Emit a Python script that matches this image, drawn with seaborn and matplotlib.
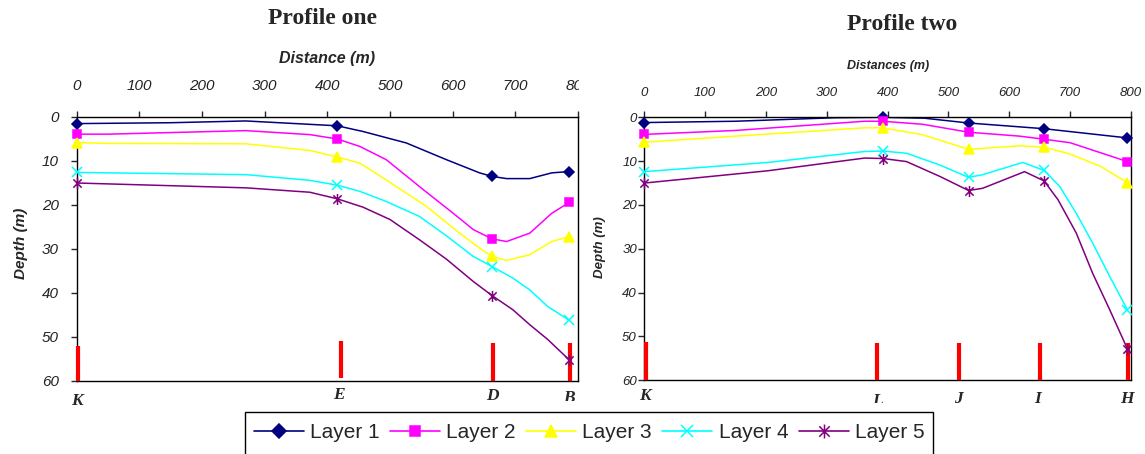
import numpy as np
import pandas as pd
import matplotlib
matplotlib.use("Agg")
import matplotlib.pyplot as plt
import seaborn as sns
from matplotlib.lines import Line2D
from matplotlib.path import Path
from matplotlib.patches import Rectangle
from matplotlib.transforms import Bbox, TransformedBbox, blended_transform_factory

sns.set_style("white")
plt.rcParams['font.family'] = ['Liberation Sans', 'DejaVu Sans']

layers = ["Layer 1", "Layer 2", "Layer 3", "Layer 4", "Layer 5"]
colors = ["#000080", "#FF00FF", "#FFFF00", "#00FFFF", "#800080"]

# ---- profile one (K - E - D - B) ----
p1_names = ["K", "E", "D", "B"]
p1_stations = [0, 416, 663, 786]
p1_bar_x = [2, 422, 664, 787]
p1_bar_top = [52.0, 51.0, 51.4, 51.4]
p1_bar_bottom = [60, 59.4, 60, 60]

p1_l1_x = [0, 150, 270, 416, 457, 526, 590, 643, 663, 686, 723, 758, 786]
p1_l1_d = [1.5, 1.3, 0.9, 2.0, 3.3, 5.9, 9.7, 12.7, 13.5, 14.0, 14.0, 12.7, 12.4]
p1_l2_x = [0, 50, 270, 372, 416, 452, 494, 553, 601, 633, 663, 686, 723, 758, 786]
p1_l2_d = [3.9, 3.9, 3.1, 4.0, 5.0, 6.7, 9.7, 16.5, 21.9, 25.6, 27.7, 28.3, 26.4, 21.9, 19.4]
p1_l3_x = [0, 50, 270, 372, 416, 452, 494, 558, 611, 643, 663, 686, 723, 758, 786]
p1_l3_d = [5.8, 6.0, 6.1, 7.6, 9.1, 10.5, 14.3, 20.3, 26.4, 29.8, 31.7, 32.6, 31.3, 28.3, 27.2]
p1_l4_x = [0, 270, 372, 416, 452, 494, 547, 590, 633, 663, 696, 723, 752, 786]
p1_l4_d = [12.6, 13.1, 14.4, 15.5, 16.9, 19.2, 22.6, 27.0, 31.7, 34.0, 36.6, 39.3, 43.1, 46.2]
p1_l5_x = [0, 270, 372, 416, 457, 500, 547, 590, 633, 663, 696, 723, 752, 786]
p1_l5_d = [15.0, 16.1, 17.1, 18.6, 20.5, 23.3, 27.9, 32.3, 37.4, 40.6, 43.8, 47.2, 50.6, 55.2]

# ---- profile two (K - L - J - I - H) ----
p2_names = ["K", "L", "J", "I", "H"]
p2_stations = [0, 392, 533, 657, 794]
p2_bar_x = [3, 382, 518, 651, 795]
p2_bar_top = [51.3, 51.6, 51.6, 51.6, 51.6]
p2_bar_bottom = [60, 60, 60, 60, 60]

p2_l1_x = [0, 150, 313, 392, 460, 533, 657, 794]
p2_l1_d = [1.2, 0.9, 0.1, 0.0, 0.2, 1.3, 2.6, 4.7]
p2_l2_x = [0, 150, 362, 392, 458, 533, 617, 657, 700, 794]
p2_l2_d = [3.9, 3.0, 0.9, 0.9, 1.6, 3.4, 4.3, 5.0, 5.8, 10.1]
p2_l3_x = [0, 150, 362, 392, 458, 533, 617, 657, 700, 750, 794]
p2_l3_d = [5.7, 4.3, 2.4, 2.4, 4.0, 7.3, 6.5, 6.8, 8.4, 11.2, 14.9]
p2_l4_x = [0, 203, 362, 392, 431, 486, 533, 556, 622, 657, 683, 710, 737, 765, 794]
p2_l4_d = [12.4, 10.3, 7.8, 7.7, 8.2, 10.9, 13.7, 13.1, 10.3, 12.1, 15.8, 21.9, 28.7, 36.3, 43.9]
p2_l5_x = [0, 203, 362, 392, 431, 486, 533, 556, 625, 657, 680, 710, 737, 765, 794]
p2_l5_d = [15.0, 12.2, 9.3, 9.4, 10.1, 13.5, 16.7, 16.2, 12.4, 14.5, 18.8, 26.4, 35.6, 43.9, 52.8]

xticks = [0, 100, 200, 300, 400, 500, 600, 700, 800]
yticks = [0, 10, 20, 30, 40, 50, 60]

# excel-like asterisk marker
star = Path([(0, -1), (0, 1), (-0.75, -0.75), (0.75, 0.75), (-0.75, 0.75), (0.75, -0.75)],
            [Path.MOVETO, Path.LINETO] * 3)
markers = ['D', 's', '^', 'x', star]
msizes = [5.5, 5.5, 7, 7, 8]

W, H = 1145, 454
fig = plt.figure(figsize=(W / 100, H / 100), dpi=100)
ax1 = fig.add_axes([76.7 / W, 1 - 381 / H, 501.3 / W, 264 / H])
ax2 = fig.add_axes([644.3 / W, 1 - 380.3 / H, 486.7 / W, 263 / H])


def draw_profile(ax, paths, stations, bar_x, bar_top, bar_bottom):
    for i, (px, pd_) in enumerate(paths):
        df = pd.DataFrame({"distance": px, "depth": pd_})
        sns.lineplot(data=df, x="distance", y="depth", ax=ax, color=colors[i],
                     lw=1.1, estimator=None, sort=False)
        mx = [x for x in px if x in stations]
        md = [d for x, d in zip(px, pd_) if x in stations]
        ax.plot(mx, md, ls="none", marker=markers[i], color=colors[i],
                ms=msizes[i], mew=1.1, clip_on=False, zorder=4)
    ax.vlines(bar_x, bar_top, bar_bottom, colors="#FF0000", lw=3, zorder=3, clip_on=False)


def style_axes(ax, xlabel, xl_y, yl_x, yl_y, labfs, tickfs, xpad, ypad, ylabfs):
    ax.set_xlim(0, 800)
    ax.set_ylim(60, 0)
    ax.set_xticks(xticks)
    ax.set_yticks(yticks)
    ax.xaxis.tick_top()
    ax.tick_params(axis="x", top=True, bottom=False, direction="out", length=4.3,
                   width=1, pad=xpad, labelsize=tickfs, labelcolor="#222222")
    ax.tick_params(axis="y", left=True, right=False, direction="out", length=4.3,
                   width=1, pad=ypad, labelsize=tickfs, labelcolor="#222222")
    for lab in ax.get_xticklabels() + ax.get_yticklabels():
        lab.set_fontstyle("italic")
    for sp in ax.spines.values():
        sp.set_visible(True)
        sp.set_color("black")
        sp.set_linewidth(1)
    ax.xaxis.set_label_position("top")
    ax.set_xlabel(xlabel, fontsize=labfs, fontweight="bold", fontstyle="italic")
    ax.xaxis.set_label_coords(0.5, xl_y)
    ax.set_ylabel("Depth (m)", fontsize=ylabfs, fontweight="bold", fontstyle="italic")
    ax.yaxis.set_label_coords(yl_x, yl_y)


draw_profile(ax1, [(p1_l1_x, p1_l1_d), (p1_l2_x, p1_l2_d), (p1_l3_x, p1_l3_d),
                   (p1_l4_x, p1_l4_d), (p1_l5_x, p1_l5_d)],
             p1_stations, p1_bar_x, p1_bar_top, p1_bar_bottom)
draw_profile(ax2, [(p2_l1_x, p2_l1_d), (p2_l2_x, p2_l2_d), (p2_l3_x, p2_l3_d),
                   (p2_l4_x, p2_l4_d), (p2_l5_x, p2_l5_d)],
             p2_stations, p2_bar_x, p2_bar_top, p2_bar_bottom)

style_axes(ax1, "Distance (m)", 1.205, -0.097, 0.523, 11.5, 11, 13, 8.5, 11)
style_axes(ax2, "Distances (m)", 1.182, -0.078, 0.507, 9, 9.5, 9, 1, 9.5)

# titles
fig.text(322 / W, 1 - 18 / H, "Profile one", ha="center", va="center",
         family="Liberation Serif", fontweight="bold", fontsize=17)
fig.text(902 / W, 1 - 25 / H, "Profile two", ha="center", va="center",
         family="Liberation Serif", fontweight="bold", fontsize=17)

# station letters under the sections (partly cut off like the source)
label_x1 = [0, 419, 663, 785]
label_top1 = [393, 387, 388, 390]
label_clip1 = [None, 400, 400, 401]
label_x2 = [1, 383, 517, 647, 793]
label_top2 = [388, 393, 391, 391, 391]
label_clip2 = [None, 403, 403, None, None]
for ax, names, lx, tops, clips in [(ax1, p1_names, label_x1, label_top1, label_clip1),
                                   (ax2, p2_names, label_x2, label_top2, label_clip2)]:
    tr = blended_transform_factory(ax.transData, fig.transFigure)
    for n, x, t, c in zip(names, lx, tops, clips):
        txt = fig.text(x, 1 - t / H, n, transform=tr, ha="center", va="top",
                       family="Liberation Serif", fontweight="bold",
                       fontstyle="italic", fontsize=12.5)
        if c is not None:
            txt.set_clip_on(True)
            txt.set_clip_box(TransformedBbox(Bbox.from_extents(0, 1 - c / H, 1, 1),
                                             fig.transFigure))

# right chart pasted over the end of the left chart's "800"
fig.add_artist(Rectangle((579 / W, 1 - 110 / H), 30 / W, 40 / H,
                         transform=fig.transFigure, color="white", zorder=5))

# legend box runs off the bottom of the picture
fig.add_artist(Rectangle((245 / W, 1 - 470 / H), 688 / W, 58 / H, fill=False,
                         ec="black", lw=1, transform=fig.transFigure, zorder=5))
handles = [Line2D([], [], color=colors[i], marker=markers[i], ms=msizes[i] + 2,
                  mew=1.1, lw=1.2) for i in range(5)]
leg = fig.legend(handles, layers, loc="center", bbox_to_anchor=(589 / W, 1 - 433 / H),
                 ncol=5, fontsize=15, frameon=False,
                 handlelength=2.4, handletextpad=0.3, columnspacing=0.5,
                 borderpad=0, borderaxespad=0)

fig.savefig("out.png", dpi=100)
